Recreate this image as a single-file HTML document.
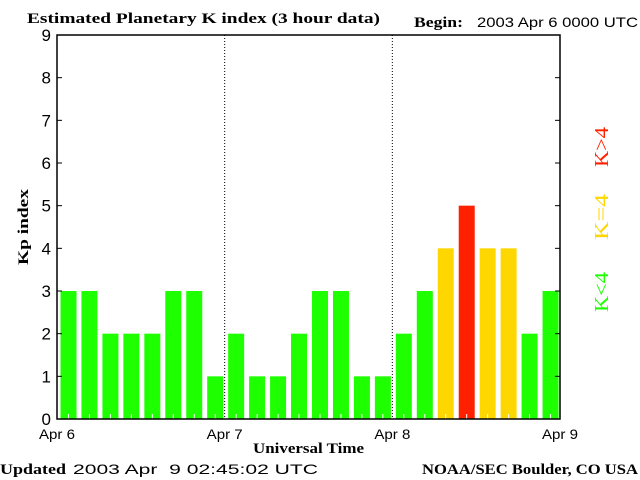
<!DOCTYPE html>
<html><head><meta charset="utf-8"><style>
body{margin:0;background:#fff;}
svg{display:block;}
.t{font-family:"Liberation Serif",serif;font-weight:bold;font-size:15px;fill:#000;}
.s{font-family:"Liberation Sans",sans-serif;font-size:14px;fill:#000;}
</style></head><body>
<svg id="c" width="640" height="480">
<text class="t" x="27" y="23" textLength="353" lengthAdjust="spacingAndGlyphs">Estimated Planetary K index (3 hour data)</text>
<text class="t" x="414" y="27" textLength="49" lengthAdjust="spacingAndGlyphs">Begin:</text>
<text class="s" x="477" y="27" textLength="161" lengthAdjust="spacingAndGlyphs">2003 Apr 6 0000 UTC</text>
<text class="t" x="0" y="474" textLength="66" lengthAdjust="spacingAndGlyphs">Updated</text>
<text class="s" x="73" y="474" textLength="245" lengthAdjust="spacingAndGlyphs" xml:space="preserve">2003 Apr  9 02:45:02 UTC</text>
<text class="t" x="422" y="474" textLength="216" lengthAdjust="spacingAndGlyphs">NOAA/SEC Boulder, CO USA</text>
<text class="t" x="253" y="453" textLength="111" lengthAdjust="spacingAndGlyphs">Universal Time</text>
<text class="t" x="28" y="227" text-anchor="middle" textLength="76" lengthAdjust="spacingAndGlyphs" transform="rotate(-90 28 227)">Kp index</text>
<text class="t" x="608" y="147" text-anchor="middle" textLength="40" lengthAdjust="spacingAndGlyphs" transform="rotate(-90 608 147)" style="fill:#ff2000;font-size:20px;font-weight:normal">K&gt;4</text>
<text class="t" x="608" y="217" text-anchor="middle" textLength="46" lengthAdjust="spacingAndGlyphs" transform="rotate(-90 608 217)" style="fill:#ffd700;font-size:20px;font-weight:normal">K=4</text>
<text class="t" x="608" y="292" text-anchor="middle" textLength="40" lengthAdjust="spacingAndGlyphs" transform="rotate(-90 608 292)" style="fill:#1eff00;font-size:20px;font-weight:normal">K&lt;4</text>
<g id="g"></g>
</svg>
<script>
const kpValues=[3,3,2,2,2,3,3,1, 2,1,1,2,3,3,1,1, 2,3,4,5,4,4,2,3];
const yTicks=[0,1,2,3,4,5,6,7,8,9];
const dayLabels=["Apr 6","Apr 7","Apr 8","Apr 9"];
const L=57,R=560,T=35,B=419,N=24;
const NS="http://www.w3.org/2000/svg";
const g=document.getElementById('g');
const xs=i=>L+(R-L)*i/N;
const ys=v=>B-(B-T)*v/9;
function mk(tag,at){const e=document.createElementNS(NS,tag);for(const k in at)e.setAttribute(k,at[k]);g.appendChild(e);return e;}
kpValues.forEach((v,i)=>{
  const col=v>4?'#ff2000':(v==4?'#ffd700':'#1eff00');
  const r=mk('rect',{x:xs(i)+3.5,y:ys(v),width:16,height:B-ys(v),fill:col});
  
  
  const t=mk('line',{x1:xs(i+0.5)+1,x2:xs(i+0.5)+1,y1:B-5,y2:B,stroke:'#fff'});
  
  
});
for(let d=1;d<3;d++){
  const x=xs(d*8);
  const l=mk('line',{x1:x,x2:x,y1:T,y2:B,stroke:'#000','stroke-dasharray':'1,2'});
  
  
}
const f=mk('rect',{x:L,y:T,width:R-L,height:B-T,fill:'none',stroke:'#000','stroke-width':1.5});


yTicks.forEach(v=>{
  const y=ys(v);
  const a=mk('line',{x1:L,x2:L+5,y1:y,y2:y,stroke:'#000'});
  
  
  const b=mk('line',{x1:R-5,x2:R,y1:y,y2:y,stroke:'#000'});
  
  
  const t=mk('text',{x:L-6,y:y+6,'text-anchor':'end',class:'s'});
  t.style.fontSize='17px';
  t.textContent=v;
  
  
});
dayLabels.forEach((s,d)=>{
  const t=mk('text',{x:xs(d*8),y:439,'text-anchor':'middle',class:'s',textLength:36,lengthAdjust:'spacingAndGlyphs'});
  t.textContent=s;
  
  
});
</script>
</body></html>
